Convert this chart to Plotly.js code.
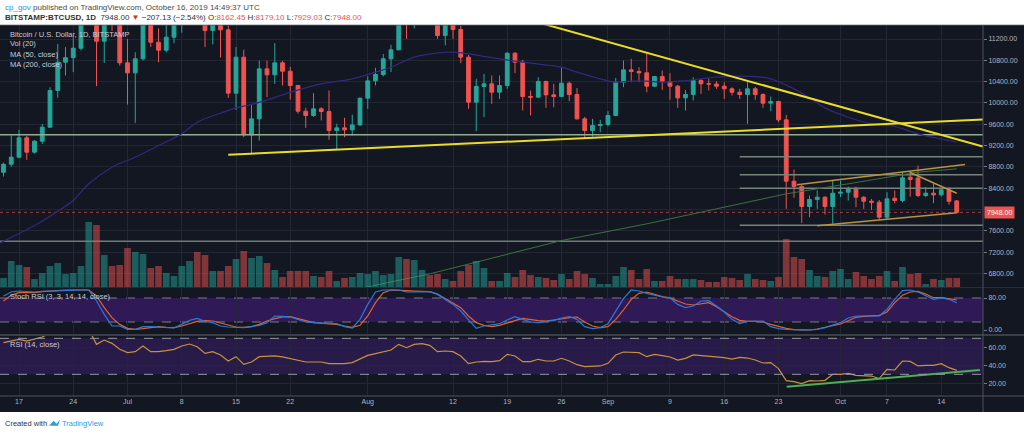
<!DOCTYPE html>
<html><head><meta charset="utf-8">
<script src="https://cdn.plot.ly/plotly-3.0.1.min.js"></script>
<style>html,body{margin:0;padding:0;background:#131722}#chart{width:1024px;height:434px}</style>
</head><body><div id="chart"></div><script>
// ---------- data ----------
const firstDay = '2019-06-15';
const opens = [
 8700,8850,8983,9346,9077,9283,9546,10234,10765,10850,11028,11750,13000,11159,12400,11900,
 10753,10565,10828,11960,11140,10990,11234,11480,12290,12570,12100,11359,11800,11372,10184,10859,9402,9702,10640,10528,10753,10596,10327,9846,9765,9890,9840,9483,9533,9496,9589,
 10090,10415,10534,10828,10997,11800,11470,11980,11990,11860,11265,11560,11378,10859,10015,10309,10359,10202,10328,10934,10765,10121,10109,10403,10152,10121,10371,10159,9702,9483,9577,
 9596,9765,10390,10621,10590,10565,10315,10496,10403,10315,10096,10159,10421,10362,10356,10315,10265,10202,10159,10265,10159,9996,10027,9683,8533,8433,8057,8189,8232,8057,
 8307,8326,8389,8232,8157,8138,7857,8213,8170,8607,8590,8264,8307,8276,8370,8162.45];
const highs = [
 8880,9390,9496,9380,9300,9608,10296,11109,11047,11234,11800,13880,13300,12440,12450,12200,
 11200,10953,12000,12000,11400,11700,11600,12350,12800,13150,12120,11900,11830,11450,11050,11000,9984,10797,10797,11122,10790,10680,10340,9910,10184,9920,10234,9610,9720,9780,10100,
 10500,10660,10920,11090,11950,12300,12100,12050,12030,11940,11600,11570,11450,10900,10453,10546,10515,10515,10953,10953,10810,10234,10484,10420,10360,10671,10400,10280,9740,9700,9683,
 9846,10470,10797,10828,10671,10940,10500,10608,10559,10340,10246,10484,10453,10453,10409,10390,10296,10265,10390,10300,10180,10121,10040,9777,8751,8470,8264,8357,8250,8545,
 8545,8430,8430,8250,8200,8180,8326,8357,8701,8658,8826,8420,8483,8408,8420,8179.10];
const lows = [
 8620,8800,8960,8933,9050,9233,9540,10096,10515,10578,10985,11650,10315,10753,11350,10700,
 9971,9627,10800,11050,10765,10950,11120,11320,12100,11600,11050,11100,10850,10096,9870,9360,9058,9296,10109,10359,10328,10065,9800,9533,9740,9671,9308,9120,9358,9390,9570,
 9890,10330,10500,10580,10990,11203,11400,11480,11650,11203,11080,11203,10746,9890,9471,9733,9983,10077,10265,10559,9858,9765,10100,9908,9921,10115,10034,9690,9346,9370,9452,
 9560,9750,10296,10390,10390,10202,10296,10246,10059,9908,9858,10046,10171,10234,10265,10077,10140,10077,9608,10059,9908,9846,9640,8013,8220,7745,7857,8013,7907,7732,
 8232,8170,8045,8013,7995,7807,7807,8120,8138,8245,8232,8232,8120,8245,8095,7929.03];
const closes = [
 8850,8983,9346,9077,9283,9546,10234,10765,10850,11028,11750,13000,11159,12400,11900,10753,
 10565,10828,11960,11140,10990,11234,11480,12290,12570,12100,11359,11800,11372,10184,10859,9402,9702,10640,10528,10753,10596,10327,9846,9765,9890,9840,9483,9533,9496,9589,10090,
 10415,10534,10828,10997,11800,11470,11980,11990,11860,11265,11560,11378,10859,10015,10309,10359,10202,10328,10934,10765,10121,10109,10403,10152,10121,10371,10159,9702,9483,9577,9596,
 9765,10390,10621,10590,10565,10315,10496,10403,10315,10096,10159,10421,10359,10356,10315,10265,10202,10159,10265,10159,9996,10027,9683,8533,8433,8057,8189,8232,8057,8307,
 8326,8389,8232,8157,8138,7857,8201,8170,8595,8563,8264,8307,8276,8370,8155,7948.00];
// volume bar heights (thousands)
const volumeK = [
 9,26,22,20,8,14,21,24,13,14,21,65,62,32,21,22,
 39,35,33,19,21,14,11,21,26,35,32,16,16,21,28,36,29,31,24,17,10,16,16,16,11,10,16,6,9,10,14,
 13,16,12,13,30,28,27,17,12,13,8,6,16,22,26,19,6,6,14,10,17,12,10,9,7,13,8,16,13,9,3,
 3,11,20,17,8,18,6,6,11,8,8,8,7,5,5,10,9,7,13,8,7,6,10,48,30,28,17,11,10,16,
 18,8,15,11,8,11,16,6,20,13,14,3,8,7,9,9];
const stochK = [
 85,95,97.5,96,95,96.7,97.5,99,100,100,100,100,
 72.5,39,10,10,1.7,1.7,8.3,8.3,6.7,5,5,14,
 24,29,21.7,18.3,10,7.5,6,6,8.3,11.7,18.3,35,
 34,32.5,26.7,20,18.3,16.7,16.7,16,8.3,5,26.7,64,
 95,100,100,100,95,95,95,96,89,76.7,64,47.5,
 26.7,4,10,12.5,
 15.8,25,33.3,26.7,20,18.3,21.7,24,30,33.3,26.7,8.3,
 3.3,6,15.8,47.5,78.3,100,97.5,91.7,86.7,82.5,80.8,64,
 55.8,60,72.5,73.3,60,45,26.7,15.8,21.7,22.5,22.5,8.3,
 3.3,1.7,0,0,0,1.7,6,11.7,18.3,30,35,35,
 35,35,51.7,76.7,98.3,100,95,86.7,76.7,80,76.7,68.3];
const stochD = [
 72.5,86.7,93.3,93.3,93.3,96,97.5,98,100,100,100,100,
 85,55.8,30.8,14,4.2,1.7,3.3,6.7,8.3,6.7,6,10,
 16.7,21.7,23.3,22.5,17.5,12.5,7.5,6.7,8.3,14,22.5,28.3,
 32.5,33.3,29,23.3,18.3,16.7,16.7,14,10,6.7,11.7,35,
 68.3,93.3,100,100,98.3,97.5,96.7,96,90,78.3,68.3,55.8,
 35,18.3,11.7,8.3,
 11.7,18.3,23.3,29,25.8,23.3,22.5,24.2,27.5,30.8,32.5,20,
 10,6,8.3,26.7,50,76.7,91.7,95,89,83.3,80,72.5,
 65,62.5,65.8,68.3,58.3,45,33.3,24.2,21.7,21.7,20,14,
 8.3,4.2,0.8,0,0,2.5,6.7,10,15,23.3,31.7,34.2,
 35,36.7,45,68.3,86.7,95,96.7,90,80.8,80.8,78.3,75];
const rsi = [
 65.2,67,68.9,67,68.9,71.5,76,80,82,83,85,80,
 63.3,68.1,64.4,57.8,54.1,55.2,61.5,55.2,55.2,56.3,57.8,61.5,
 63.7,60.7,53.3,55.2,51.5,44.8,49.6,41.1,43.7,49.6,49.6,50.4,
 49.3,47.4,44.8,43.7,43.7,43.7,41.9,41.9,41.9,43,46.7,51.1,
 53,55.2,57,63.3,59.6,63.3,64.1,62.2,55.2,55.9,55.2,50.4,
 41.9,43.7,44.4,44.1,
 45.2,52.2,50.4,44.1,44.1,46.7,44.8,44.8,47.8,44.8,40.7,38.5,
 38.9,39.3,42.2,51.5,54.8,54.1,54.1,49.6,52.2,50.7,49.3,45.9,
 47.8,51.5,50.7,50.4,49.6,48.5,47,48.9,48.1,45.9,42.6,43,
 36.3,23,21.9,19.6,23,22.6,23.3,30,30,31.1,28.9,28.9,
 28.1,25.2,35.6,34.8,44.8,44.4,39.3,40,40,41.9,37.4,34.4];
const ma50Dates = ['2019-06-14','2019-06-15','2019-06-19','2019-06-22','2019-06-24','2019-06-26','2019-06-29','2019-07-02','2019-07-05','2019-07-08','2019-07-10','2019-07-13','2019-07-15','2019-07-18','2019-07-22','2019-07-26','2019-07-30','2019-08-02','2019-08-04','2019-08-07','2019-08-10','2019-08-12','2019-08-14','2019-08-17','2019-08-22','2019-08-26','2019-08-28','2019-08-31','2019-09-02','2019-09-04','2019-09-06','2019-09-08','2019-09-11','2019-09-14','2019-09-16','2019-09-20','2019-09-22','2019-09-25','2019-09-27','2019-09-29','2019-10-02','2019-10-05','2019-10-08','2019-10-11','2019-10-15','2019-10-16'];
const ma50Values = [7330,7407,7701,7970,8170,8483,8795,8983,9202,9421,9640,9808,9908,10010,10200,10359,10453,10578,10671,10859,10940,10953,10922,10850,10746,10671,10578,10453,10390,10409,10409,10390,10421,10471,10496,10496,10453,10265,10096,9908,9733,9608,9558,9421,9296,9270];
const ma200Dates = ['2019-07-31','2019-08-05','2019-08-09','2019-08-15','2019-08-26','2019-09-06','2019-09-15','2019-09-24','2019-10-02','2019-10-11','2019-10-16'];
const ma200Values = [6520,6680,6794,7013,7419,7732,8013,8295,8483,8701,8764];
const supportDates = ['2019-07-14','2019-10-19 09:00']; const supportValues = [9030,9690];
const resistDates = ['2019-08-20','2019-10-19 09:00']; const resistValues = [11633,9183];
const chanTopDates = ['2019-09-25 09:00','2019-10-17 01:30']; const chanTopValues = [8465,8846];
const chanBotDates = ['2019-09-28','2019-10-16']; const chanBotValues = [7695,7940];
const chanDescDates = ['2019-10-09 22:00','2019-10-16']; const chanDescValues = [8701,8307];
const rsiTrendDates = ['2019-09-24 01:30','2019-10-19 00:00']; const rsiTrendValues = [16.3,34.8];
const levelsFull = [9402, 7407];
const levelsRecent = [8992, 8651, 8401, 7707];
const levelsRecentStart = '2019-09-18';
const lastPrice = 7948.00;
const priceGrid = [6800,7200,7600,8000,8400,8800,9200,9600,10000,10400,10800,11200];
const priceTicks = [6800,7200,7600,8400,8800,9200,9600,10000,10400,10800,11200];
const tickDates = ['2019-06-17','2019-06-24','2019-07-01','2019-07-08','2019-07-15','2019-07-22','2019-08-01','2019-08-12','2019-08-19','2019-08-26','2019-09-01','2019-09-09','2019-09-16','2019-09-23','2019-10-01','2019-10-07','2019-10-14'];
const tickLabels = ['17','24','Jul','8','15','22','Aug','12','19','26','Sep','9','16','23','Oct','7','14'];
const xStart = '2019-06-14 13:09', xEnd = '2019-10-19 09:20';

// ---------- build ----------
function dayList(start, n){const out=[];const t0=Date.parse(start+'T00:00:00Z');for(let i=0;i<n;i++){out.push(new Date(t0+i*864e5).toISOString().slice(0,10));}return out;}
const dates = dayList(firstDay, closes.length);
const UP='#26a69a', DN='#ef5350';
const F = 'Liberation Sans, Arial, sans-serif';
const GRID='#232733', AX='#50535e';
const traces = [];
traces.push({type:'bar', x:dates, y:volumeK, yaxis:'y2', width:0.86*864e5,
  marker:{color:closes.map((c,i)=>c>=opens[i]?'rgba(38,166,154,0.5)':'rgba(239,83,80,0.5)'), line:{width:0}}, hoverinfo:'skip'});
levelsFull.forEach((v,i)=>traces.push({type:'scatter',mode:'lines',x:[xStart,xEnd],y:[v,v],line:{color:i===0?'#93ad93':'#6f7c74',width:1.5},hoverinfo:'skip'}));
levelsRecent.forEach(v=>traces.push({type:'scatter',mode:'lines',x:[levelsRecentStart,xEnd],y:[v,v],line:{color:'#76847b',width:1.5},hoverinfo:'skip'}));
traces.push({type:'scatter',mode:'lines',x:[xStart,xEnd],y:[lastPrice,lastPrice],line:{color:'rgba(239,83,80,0.65)',width:1,dash:'dot'},hoverinfo:'skip'});
traces.push({type:'scatter',mode:'lines',x:ma200Dates,y:ma200Values,line:{color:'#3d7040',width:1},hoverinfo:'skip'});
traces.push({type:'scatter',mode:'lines',x:ma50Dates,y:ma50Values,line:{color:'#33287e',width:1.2,shape:'spline'},hoverinfo:'skip'});
traces.push({type:'candlestick',x:dates,open:opens,high:highs,low:lows,close:closes,whiskerwidth:0,
  increasing:{line:{color:UP,width:1},fillcolor:UP},decreasing:{line:{color:DN,width:1},fillcolor:DN},hoverinfo:'none'});
[[supportDates,supportValues],[resistDates,resistValues]].forEach(p=>traces.push({type:'scatter',mode:'lines',x:p[0],y:p[1],line:{color:'#eadc2a',width:2},hoverinfo:'skip'}));
[[chanTopDates,chanTopValues],[chanBotDates,chanBotValues],[chanDescDates,chanDescValues]].forEach(p=>traces.push({type:'scatter',mode:'lines',x:p[0],y:p[1],line:{color:'#b8953c',width:1.5},hoverinfo:'skip'}));
traces.push({type:'scatter',mode:'lines',x:dates,y:stochD,yaxis:'y3',line:{color:'#e2622f',width:1.2},hoverinfo:'skip'});
traces.push({type:'scatter',mode:'lines',x:dates,y:stochK,yaxis:'y3',line:{color:'#2b78dc',width:1.2},hoverinfo:'skip'});
traces.push({type:'scatter',mode:'lines',x:dates,y:rsi,yaxis:'y4',line:{color:'#c8923c',width:1.2},hoverinfo:'skip'});
traces.push({type:'scatter',mode:'lines',x:rsiTrendDates,y:rsiTrendValues,yaxis:'y4',line:{color:'#4caf50',width:2},hoverinfo:'skip'});

const shapes = [
  {type:'rect',xref:'x',yref:'y3',x0:xStart,x1:xEnd,y0:20,y1:80,fillcolor:'#2f1a57',line:{width:0},layer:'below'},
  {type:'line',xref:'x',yref:'y3',x0:xStart,x1:xEnd,y0:80,y1:80,line:{color:'#787b86',width:1,dash:'dash'},layer:'below'},
  {type:'line',xref:'x',yref:'y3',x0:xStart,x1:xEnd,y0:20,y1:20,line:{color:'#787b86',width:1,dash:'dash'},layer:'below'},
  {type:'rect',xref:'x',yref:'y4',x0:xStart,x1:xEnd,y0:30,y1:70,fillcolor:'#281b4a',line:{width:0},layer:'below'},
  {type:'line',xref:'x',yref:'y4',x0:xStart,x1:xEnd,y0:70,y1:70,line:{color:'#9598a1',width:1,dash:'dash'}},
  {type:'line',xref:'x',yref:'y4',x0:xStart,x1:xEnd,y0:30,y1:30,line:{color:'#9598a1',width:1,dash:'dash'}},
  {type:'line',xref:'paper',yref:'paper',x0:0,x1:1.05,y0:0.2925,y1:0.2925,line:{color:'#2a2e39',width:1}},
  {type:'line',xref:'paper',yref:'paper',x0:0,x1:1.05,y0:0.1644,y1:0.1644,line:{color:'#3a3e49',width:2}},
  {type:'line',xref:'paper',yref:'paper',x0:0,x1:1.05,y0:0,y1:0,line:{color:AX,width:1}},
  {type:'line',xref:'paper',yref:'paper',x0:0,x1:1.05,y0:1,y1:1,line:{color:AX,width:1}},
  {type:'line',xref:'paper',yref:'paper',x0:1,x1:1,y0:-0.0431,y1:1,line:{color:AX,width:1}},
  {type:'rect',xref:'paper',yref:'paper',x0:-0.05,x1:1.1,y0:1.001,y1:1.2,fillcolor:'#ffffff',line:{width:0},layer:'above'},
  {type:'rect',xref:'paper',yref:'paper',x0:-0.05,x1:1.1,y0:-0.0431,y1:-0.2,fillcolor:'#ffffff',line:{width:0},layer:'above'},
  {type:'path',xref:'paper',yref:'paper',path:'M 0.0500 -0.0800 L 0.0545 -0.0665 L 0.0575 -0.0745 L 0.0612 -0.0640 L 0.0590 -0.0800 Z',fillcolor:'#2f9be3',line:{width:0},layer:'above'}
];
// gridline at the price level whose label is hidden behind the last-price tag
priceGrid.filter(v=>!priceTicks.includes(v)).forEach(v=>shapes.push({type:'line',xref:'paper',yref:'y',x0:0,x1:1,y0:v,y1:v,line:{color:GRID,width:1},layer:'below'}));
const A = (text,x,y,size,color,extra)=>Object.assign({text,x,y,xref:'paper',yref:'paper',xanchor:'left',yanchor:'middle',showarrow:false,font:{family:F,size,color}},extra||{});
const annotations = [
  A('<span style="color:#2196f3">cp_gov</span> published on TradingView.com, October 16, 2019 14:49:37 UTC',0.003,1.0485,8,'#4a4a4a'),
  A('<b>BITSTAMP:BTCUSD, 1D</b>  7948.00 <span style="color:#c0392b">▼</span> −207.13 (−2.54%) O:<span style="color:#ef5350">8162.45</span> H:<span style="color:#ef5350">8179.10</span> L:<span style="color:#ef5350">7929.03</span> C:<span style="color:#ef5350">7948.00</span>',0.003,1.0205,8,'#333333'),
  A('Bitcoin / U.S. Dollar, 1D, BITSTAMP',0.008,0.9757,7.5,'#c9ccd4'),
  A('Vol (20)',0.008,0.9488,7.5,'#c9ccd4'),
  A('MA (50, close)',0.008,0.9205,7.5,'#c9ccd4'),
  A('MA (200, close)',0.008,0.8922,7.5,'#c9ccd4'),
  A('Stoch RSI (3, 3, 14, 14, close)',0.008,0.2695,7.5,'#c9ccd4'),
  A('RSI (14, close)',0.008,0.1375,7.5,'#c9ccd4'),
  A('Created with',0.003,-0.0728,7.5,'#333333'),
  A('TradingView',0.0615,-0.0728,7.5,'#2f9be3'),
  {text:lastPrice.toFixed(2),x:1,xref:'paper',y:lastPrice,yref:'y',xanchor:'left',yanchor:'middle',xshift:1,showarrow:false,
   bgcolor:'#ef5350',borderpad:2,font:{family:F,size:7,color:'#ffffff'}}
];
const yTick = {side:'right',showline:false,zeroline:false,ticks:'outside',ticklen:3,tickcolor:'#787b86',tickfont:{family:F,size:7,color:'#b2b5be'},fixedrange:true};
const layout = {
  width:1024,height:434,margin:{l:0,r:41,t:25,b:38},
  paper_bgcolor:'#131722',plot_bgcolor:'#131722',showlegend:false,
  xaxis:{type:'date',range:[xStart,xEnd],anchor:'y4',tickvals:tickDates,ticktext:tickLabels,showgrid:true,gridcolor:GRID,
    zeroline:false,showline:false,ticks:'',tickfont:{family:F,size:7,color:'#b2b5be'},rangeslider:{visible:false},fixedrange:true},
  yaxis:Object.assign({domain:[0.2938,1],range:[6547,11463],tickvals:priceTicks,ticktext:priceTicks.map(v=>v.toFixed(2)),gridcolor:GRID},yTick),
  yaxis2:{overlaying:'y',range:[0,262],visible:false,fixedrange:true},
  yaxis3:Object.assign({domain:[0.1671,0.2911],range:[-10,105],tickvals:[0,80],ticktext:['0.00','80.00'],showgrid:false},yTick),
  yaxis4:Object.assign({domain:[0,0.1644],range:[5.9,73.7],tickvals:[20,40,60],ticktext:['20.00','40.00','60.00'],gridcolor:GRID},yTick),
  shapes, annotations
};
Plotly.newPlot('chart',traces,layout,{staticPlot:true,displayModeBar:false});
</script></body></html>
